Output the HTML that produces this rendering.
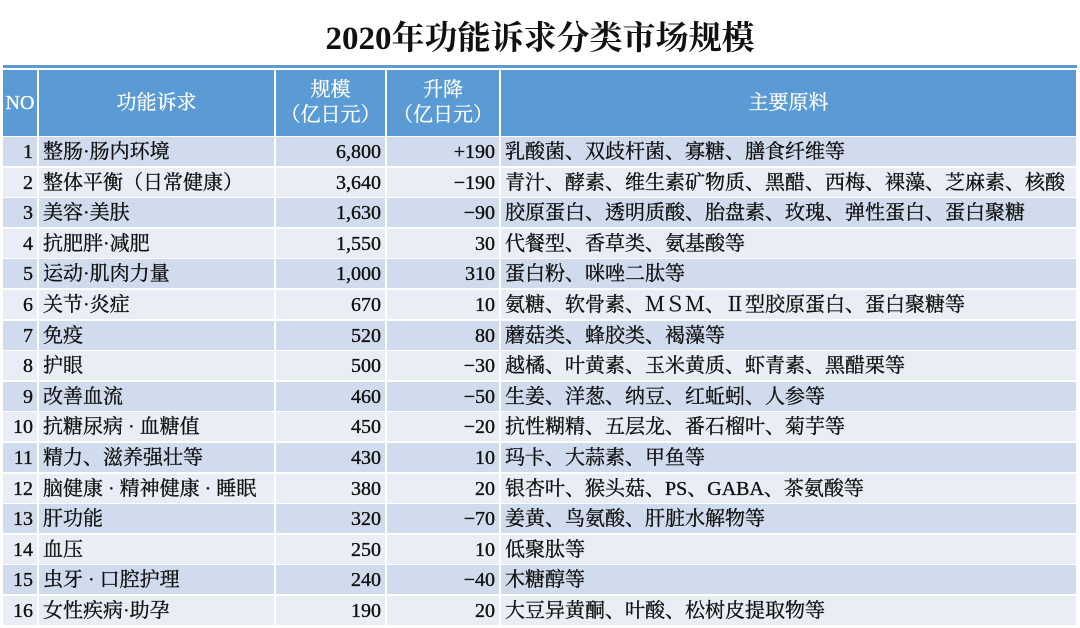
<!DOCTYPE html>
<html><head><meta charset="utf-8"><style>
body{margin:0;width:1080px;height:628px;background:#fff;overflow:hidden;position:relative;font-family:"Liberation Serif","Noto Serif CJK SC",serif;}
#title{position:absolute;left:0;top:12px;width:1080px;text-align:center;font-size:33px;font-weight:bold;color:#111;}
#topline{position:absolute;left:3px;top:65px;width:1074px;height:3px;background:#5b9bd5;}
.c{position:absolute;box-sizing:border-box;font-size:20px;color:#111;white-space:nowrap;overflow:hidden;line-height:30px;-webkit-text-stroke:0.35px #111;}
.h{background:#5b9bd5;color:#fff;text-align:center;display:flex;align-items:center;justify-content:center;line-height:25px;-webkit-text-stroke:0.3px #fff;}
</style></head><body>
<div id="title">2020年功能诉求分类市场规模</div>
<div id="topline"></div>
<div id="tbl"></div>
<script>
const nos=[1,2,3,4,5,6,7,8,9,10,11,12,13,14,15,16];
const claims=["整肠·肠内环境","整体平衡（日常健康）","美容·美肤","抗肥胖·减肥","运动·肌肉力量","关节·炎症","免疫","护眼","改善血流","抗糖尿病 · 血糖值","精力、滋养强壮等","脑健康 · 精神健康 · 睡眠","肝功能","血压","虫牙 · 口腔护理","女性疾病·助孕"];
const sizes=[6800,3640,1630,1550,1000,670,520,500,460,450,430,380,320,250,240,190];
const changes=["+190","−190","−90","30","310","10","80","−30","−50","−20","10","20","−70","10","−40","20"];
const materials=["乳酸菌、双歧杆菌、寡糖、膳食纤维等","青汁、酵素、维生素矿物质、黑醋、西梅、裸藻、芝麻素、核酸","胶原蛋白、透明质酸、胎盘素、玫瑰、弹性蛋白、蛋白聚糖","代餐型、香草类、氨基酸等","蛋白粉、咪唑二肽等","氨糖、软骨素、ＭＳＭ、Ⅱ型胶原蛋白、蛋白聚糖等","蘑菇类、蜂胶类、褐藻等","越橘、叶黄素、玉米黄质、虾青素、黑醋栗等","生姜、洋葱、纳豆、红蚯蚓、人参等","抗性糊精、五层龙、番石榴叶、菊芋等","玛卡、大蒜素、甲鱼等","银杏叶、猴头菇、PS、GABA、茶氨酸等","姜黄、鸟氨酸、肝脏水解物等","低聚肽等","木糖醇等","大豆异黄酮、叶酸、松树皮提取物等"];
const colX=[3,38,275,386,500,1077];
const tbl=document.getElementById('tbl');
function cell(x,y,w,h,cls,html,bg,align,name){
 const d=document.createElement('div');
 d.className='c '+cls;
 d.style.left=x+'px';d.style.top=y+'px';d.style.width=w+'px';d.style.height=h+'px';
 if(bg)d.style.background=bg;
 if(align){d.style.textAlign=align;}
 d.innerHTML=html;
 
 
 tbl.appendChild(d);
 return d;
}
const heads=["NO","功能诉求","规模<br>（亿日元）","升降<br>（亿日元）","主要原料"];
const hname=["header-no","header-claim","header-size","header-change","header-materials"];
for(let i=0;i<5;i++){cell(colX[i]+(i?1:0),70,colX[i+1]-colX[i]-(i?1:0)-1,66,'h',heads[i],null,null,hname[i]);}
const top0=137,rh=30.6;
nos.forEach((n,r)=>{
 const y=Math.round(top0+r*rh), h=Math.round(rh)-2;
 const bg=r%2?'#e9eef6':'#d0dcee';
 const vals=[String(n),claims[r],sizes[r].toLocaleString('en-US'),changes[r],materials[r]];
 const al=['right','left','right','right','left'];
 const nm=['row-no','row-claim','row-size','row-change','row-materials'];
 for(let i=0;i<5;i++){
  const x=colX[i]+(i?1:0), w=colX[i+1]-colX[i]-(i?1:0)-1;
  const d=cell(x,y,w,h,'',vals[i],bg,al[i],nm[i]);
  d.style.padding=al[i]==='right'?'0 4px 0 0':'0 0 0 4px';
 }
});
</script>
</body></html>
